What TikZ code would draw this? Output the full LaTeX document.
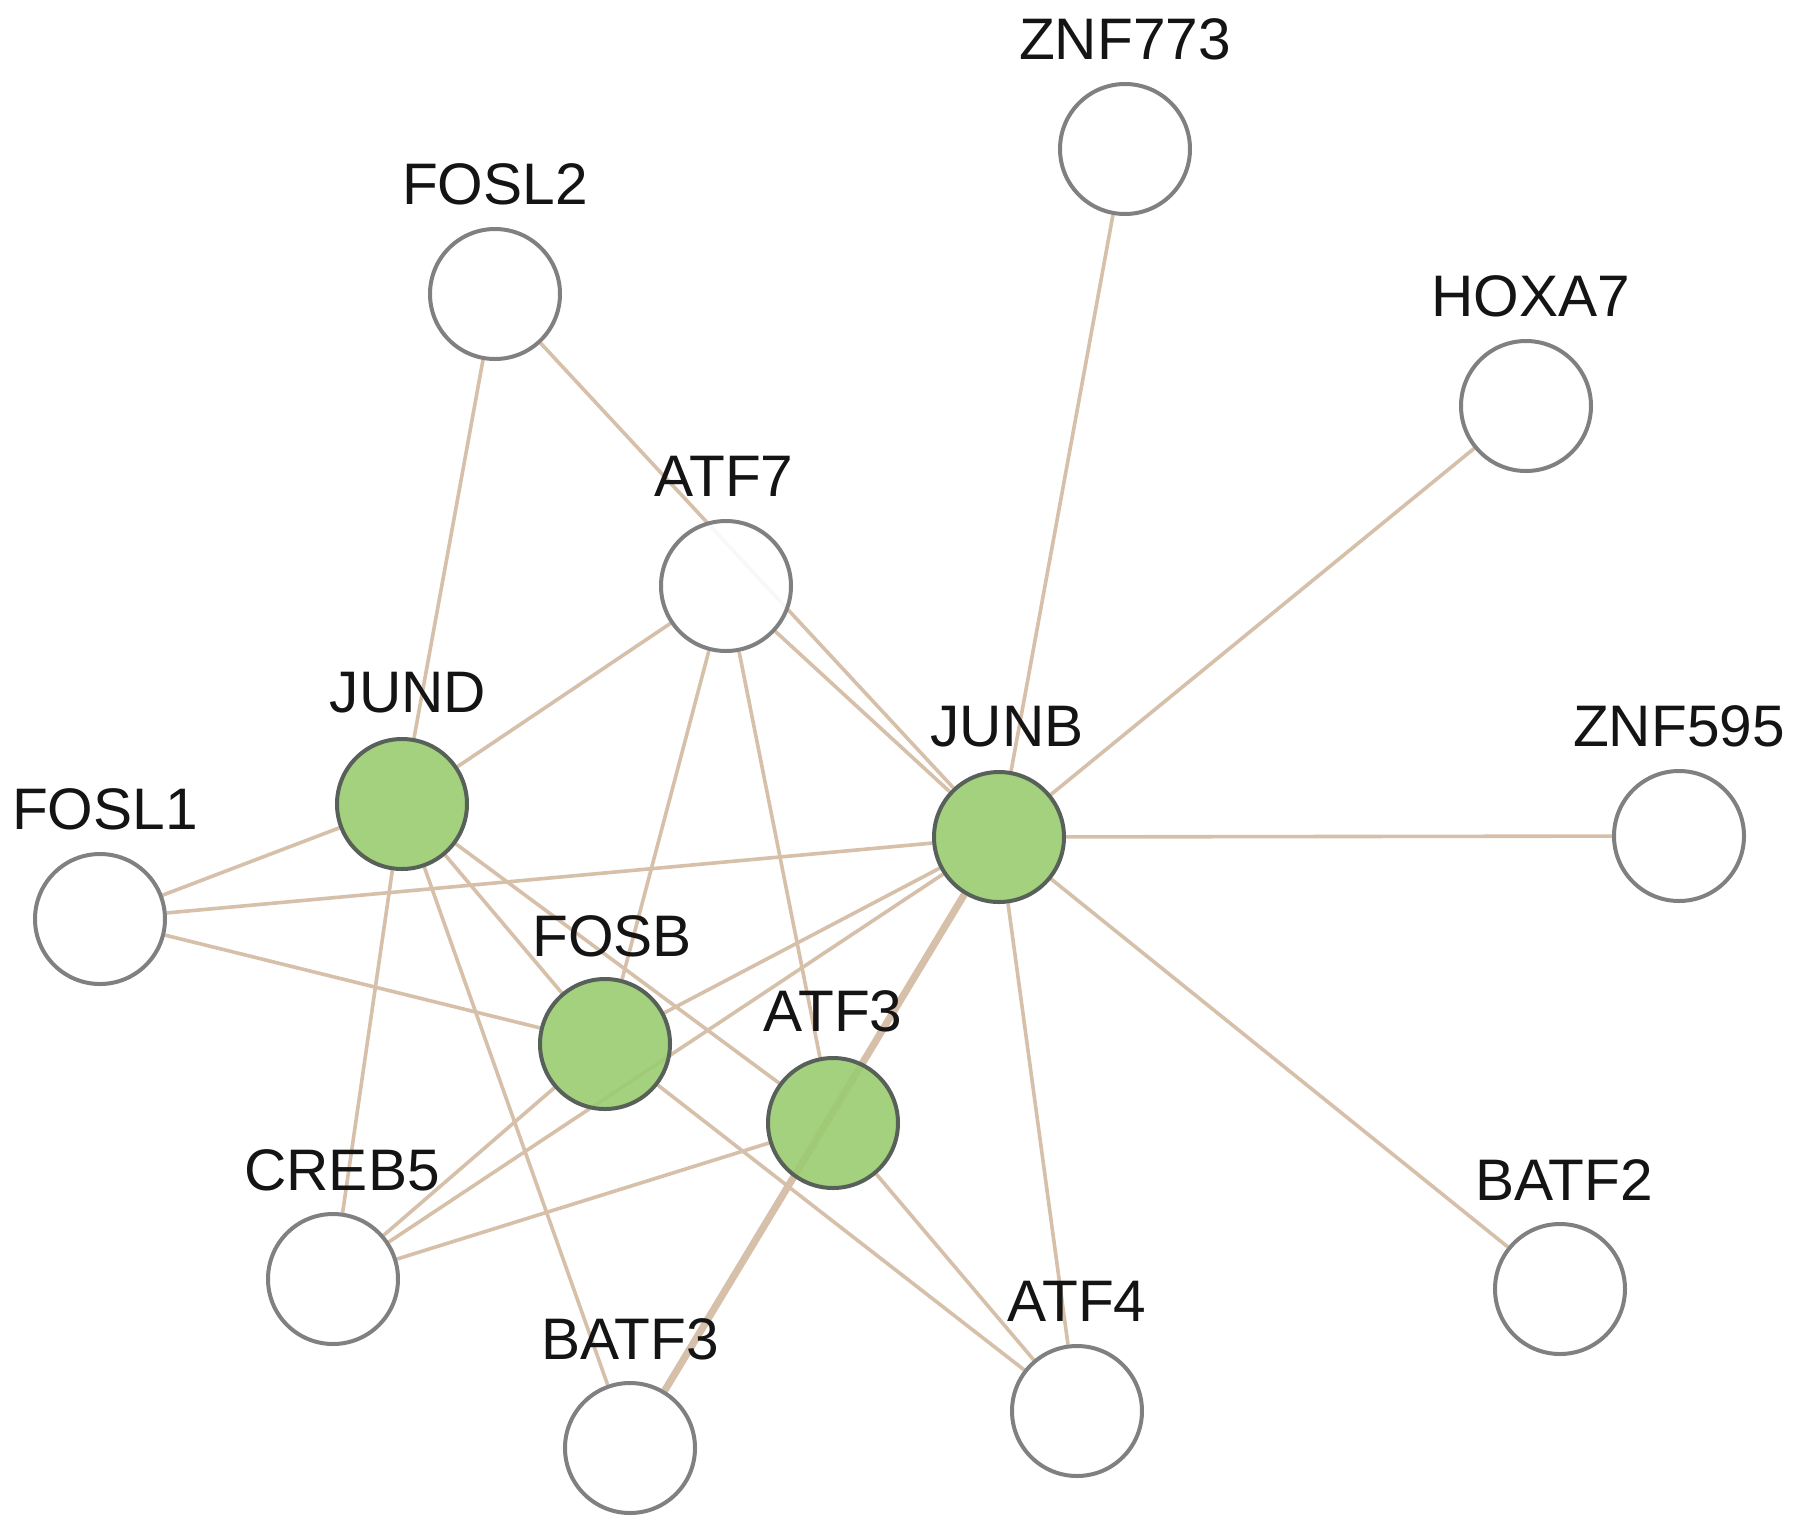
\documentclass[tikz,border=0pt]{standalone}
\usepackage{fontspec}
\setmainfont{Liberation Sans}
\pgfdeclarelayer{back}
\pgfdeclarelayer{edges}
\pgfsetlayers{back,edges,main}
\definecolor{edgec}{RGB}{214,192,170}
\definecolor{greenf}{RGB}{155,204,112}
\definecolor{gborder}{RGB}{88,96,90}
\definecolor{wborder}{RGB}{128,128,128}
\definecolor{labc}{RGB}{20,20,20}
\begin{document}
\begin{tikzpicture}[x=0.5pt,y=-0.5pt,
  gene/.style={circle, draw=wborder, line width=2pt, fill=white, fill opacity=0.9, draw opacity=1, minimum size=65pt, inner sep=0pt},
  hit/.style={gene, fill=greenf, draw=gborder},
  lab/.style={font=\fontsize{29.3}{35}\selectfont, text=labc, anchor=base, inner sep=0pt},
  edge/.style={draw=edgec, line width=1.8pt},
  thickedge/.style={draw=edgec, line width=3.6pt}]
\begin{pgfonlayer}{back}
\fill[white] (0,0) rectangle (1795,1532);
\end{pgfonlayer}
\useasboundingbox (0,0) rectangle (1795,1532);
% nodes
\node[gene] (ZNF773) at (1125,149) {};
\node[gene] (FOSL2) at (495,294) {};
\node[gene] (HOXA7) at (1526,406) {};
\node[gene] (ATF7) at (726,586) {};
\node[hit] (JUND) at (402,804) {};
\node[hit] (JUNB) at (999,837) {};
\node[gene] (ZNF595) at (1679,836) {};
\node[gene] (FOSL1) at (100,919) {};
\node[hit] (FOSB) at (605,1044) {};
\node[hit] (ATF3) at (833,1123) {};
\node[gene] (CREB5) at (333,1279) {};
\node[gene] (BATF2) at (1560,1289) {};
\node[gene] (ATF4) at (1077,1411) {};
\node[gene] (BATF3) at (630,1448) {};
% labels
\node[lab] (lZNF773) at (1125,59) {ZNF773};
\node[lab] (lFOSL2) at (495,204) {FOSL2};
\node[lab] (lHOXA7) at (1531,316) {HOXA7};
\node[lab] (lATF7) at (724,496) {ATF7};
\node[lab] (lJUND) at (408,712) {JUND};
\node[lab] (lJUNB) at (1007,746) {JUNB};
\node[lab] (lZNF595) at (1679,746) {ZNF595};
\node[lab] (lFOSL1) at (105,829) {FOSL1};
\node[lab] (lFOSB) at (612,956) {FOSB};
\node[lab] (lATF3) at (833,1031) {ATF3};
\node[lab] (lCREB5) at (342,1190) {CREB5};
\node[lab] (lBATF2) at (1564,1200) {BATF2};
\node[lab] (lATF4) at (1077,1321) {ATF4};
\node[lab] (lBATF3) at (630,1359) {BATF3};
% edges
\begin{pgfonlayer}{edges}
\draw[edge] (FOSL2) -- (JUND);
\draw[edge] (FOSL2) -- (JUNB);
\draw[edge] (ZNF773) -- (JUNB);
\draw[edge] (HOXA7) -- (JUNB);
\draw[edge] (ZNF595) -- (JUNB);
\draw[edge] (BATF2) -- (JUNB);
\draw[edge] (ATF4) -- (JUNB);
\draw[edge] (ATF7) -- (JUNB);
\draw[edge] (ATF7) -- (JUND);
\draw[edge] (ATF7) -- (FOSB);
\draw[edge] (ATF7) -- (ATF3);
\draw[edge] (JUND) -- (FOSL1);
\draw[edge] (JUND) -- (CREB5);
\draw[edge] (JUND) -- (BATF3);
\draw[edge] (JUND) -- (FOSB);
\draw[edge] (JUND) -- (ATF3);
\draw[edge] (FOSL1) -- (JUNB);
\draw[edge] (FOSL1) -- (FOSB);
\draw[edge] (FOSB) -- (JUNB);
\draw[edge] (FOSB) -- (CREB5);
\draw[edge] (FOSB) -- (ATF4);
\draw[edge] (JUNB) -- (CREB5);
\draw[edge] (ATF3) -- (CREB5);
\draw[edge] (ATF3) -- (ATF4);
\draw[thickedge] (JUNB) -- (BATF3);
\end{pgfonlayer}
\end{tikzpicture}
\end{document}
